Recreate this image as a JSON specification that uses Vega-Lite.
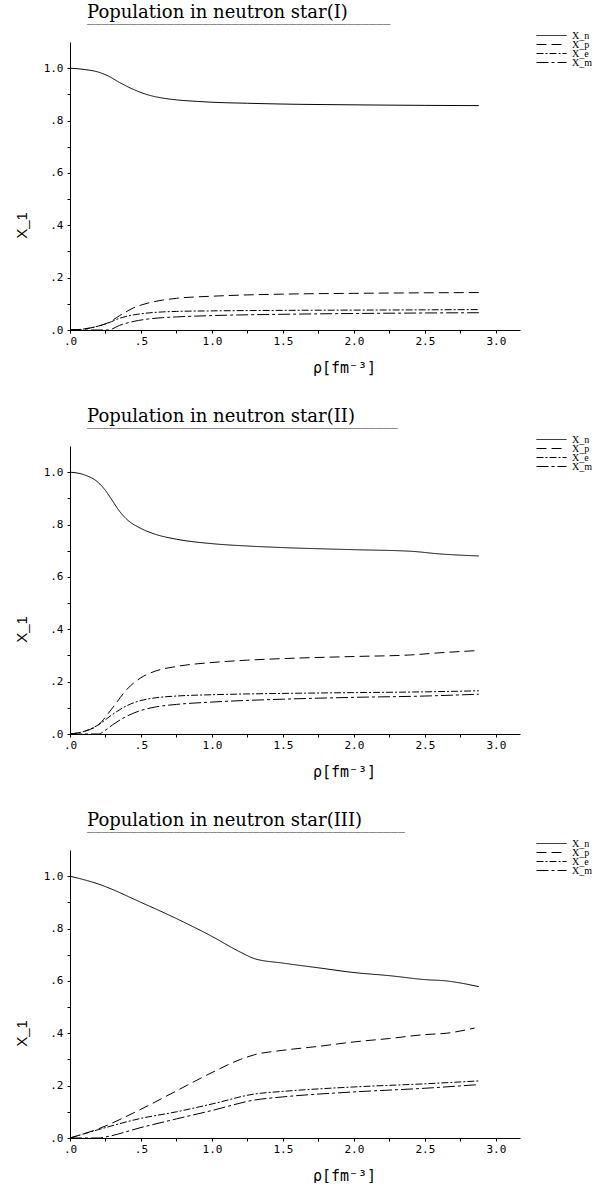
{
  "$schema": "https://vega.github.io/schema/vega-lite/v6.json",
  "padding": {"left": 14, "top": 4, "right": 0, "bottom": 0},
  "background": "white",
  "bounds": "flush",
  "spacing": 116,
  "config": {
    "view": {"stroke": null},
    "line": {"color": "black", "strokeWidth": 1, "interpolate": "monotone"},
    "axis": {
      "grid": false, "domainColor": "black", "tickColor": "black", "labelColor": "black", "titleColor": "black",
      "domainWidth": 1, "tickWidth": 1, "tickSize": 3,
      "labelFont": "DejaVu Sans Mono", "labelFontSize": 11, "labelOverlap": false, "labelFlush": false,
      "titleFontWeight": "normal"
    },
    "axisX": {"labelPadding": 2},
    "axisY": {"labelPadding": 4},
    "title": {"font": "DejaVu Serif", "fontSize": 18, "fontWeight": "normal", "color": "black",
      "subtitleFont": "DejaVu Sans Mono", "subtitleFontSize": 12, "subtitleColor": "#222", "subtitlePadding": 0,
      "anchor": "start", "frame": "group", "dx": 17},
    "legend": {"orient": "none", "legendX": 466, "legendY": -10, "title": null, "symbolType": "stroke",
      "symbolStrokeColor": "black", "symbolStrokeWidth": 1, "symbolSize": 900, "clipHeight": 7,
      "labelFont": "Liberation Serif", "labelFontSize": 10, "labelColor": "black", "labelOffset": 5, "rowPadding": -5}
  },
  "datasets": {
    "p1": [
      {"rho": 0, "x": 1.0, "s": "X_n"}, {"rho": 0.1, "x": 0.995, "s": "X_n"}, {"rho": 0.2, "x": 0.985, "s": "X_n"}, {"rho": 0.27, "x": 0.97, "s": "X_n"}, {"rho": 0.35, "x": 0.945, "s": "X_n"}, {"rho": 0.45, "x": 0.918, "s": "X_n"}, {"rho": 0.55, "x": 0.898, "s": "X_n"}, {"rho": 0.65, "x": 0.886, "s": "X_n"}, {"rho": 0.75, "x": 0.879, "s": "X_n"}, {"rho": 0.9, "x": 0.873, "s": "X_n"}, {"rho": 1.0, "x": 0.87, "s": "X_n"}, {"rho": 1.25, "x": 0.866, "s": "X_n"}, {"rho": 1.5, "x": 0.863, "s": "X_n"}, {"rho": 2.0, "x": 0.86, "s": "X_n"}, {"rho": 2.5, "x": 0.858, "s": "X_n"}, {"rho": 2.88, "x": 0.857, "s": "X_n"},
      {"rho": 0, "x": 0, "s": "X_p"}, {"rho": 0.1, "x": 0.004, "s": "X_p"}, {"rho": 0.2, "x": 0.015, "s": "X_p"}, {"rho": 0.27, "x": 0.028, "s": "X_p"}, {"rho": 0.35, "x": 0.055, "s": "X_p"}, {"rho": 0.45, "x": 0.085, "s": "X_p"}, {"rho": 0.55, "x": 0.103, "s": "X_p"}, {"rho": 0.65, "x": 0.114, "s": "X_p"}, {"rho": 0.75, "x": 0.121, "s": "X_p"}, {"rho": 1.0, "x": 0.129, "s": "X_p"}, {"rho": 1.25, "x": 0.134, "s": "X_p"}, {"rho": 1.5, "x": 0.137, "s": "X_p"}, {"rho": 2.0, "x": 0.14, "s": "X_p"}, {"rho": 2.5, "x": 0.142, "s": "X_p"}, {"rho": 2.88, "x": 0.143, "s": "X_p"},
      {"rho": 0, "x": 0, "s": "X_e"}, {"rho": 0.1, "x": 0.004, "s": "X_e"}, {"rho": 0.2, "x": 0.015, "s": "X_e"}, {"rho": 0.27, "x": 0.027, "s": "X_e"}, {"rho": 0.35, "x": 0.045, "s": "X_e"}, {"rho": 0.45, "x": 0.058, "s": "X_e"}, {"rho": 0.55, "x": 0.065, "s": "X_e"}, {"rho": 0.65, "x": 0.069, "s": "X_e"}, {"rho": 0.75, "x": 0.071, "s": "X_e"}, {"rho": 1.0, "x": 0.073, "s": "X_e"}, {"rho": 1.5, "x": 0.075, "s": "X_e"}, {"rho": 2.0, "x": 0.076, "s": "X_e"}, {"rho": 2.5, "x": 0.077, "s": "X_e"}, {"rho": 2.88, "x": 0.078, "s": "X_e"},
      {"rho": 0, "x": 0, "s": "X_m"}, {"rho": 0.27, "x": 0, "s": "X_m"}, {"rho": 0.35, "x": 0.018, "s": "X_m"}, {"rho": 0.45, "x": 0.033, "s": "X_m"}, {"rho": 0.55, "x": 0.042, "s": "X_m"}, {"rho": 0.65, "x": 0.047, "s": "X_m"}, {"rho": 0.75, "x": 0.05, "s": "X_m"}, {"rho": 1.0, "x": 0.055, "s": "X_m"}, {"rho": 1.5, "x": 0.06, "s": "X_m"}, {"rho": 2.0, "x": 0.063, "s": "X_m"}, {"rho": 2.5, "x": 0.065, "s": "X_m"}, {"rho": 2.88, "x": 0.066, "s": "X_m"}
    ],
    "p2": [
      {"rho": 0, "x": 1.0, "s": "X_n"}, {"rho": 0.1, "x": 0.99, "s": "X_n"}, {"rho": 0.2, "x": 0.96, "s": "X_n"}, {"rho": 0.25, "x": 0.93, "s": "X_n"}, {"rho": 0.3, "x": 0.89, "s": "X_n"}, {"rho": 0.35, "x": 0.85, "s": "X_n"}, {"rho": 0.4, "x": 0.82, "s": "X_n"}, {"rho": 0.5, "x": 0.785, "s": "X_n"}, {"rho": 0.6, "x": 0.763, "s": "X_n"}, {"rho": 0.75, "x": 0.744, "s": "X_n"}, {"rho": 1.0, "x": 0.727, "s": "X_n"}, {"rho": 1.25, "x": 0.718, "s": "X_n"}, {"rho": 1.5, "x": 0.712, "s": "X_n"}, {"rho": 2.0, "x": 0.704, "s": "X_n"}, {"rho": 2.4, "x": 0.698, "s": "X_n"}, {"rho": 2.6, "x": 0.688, "s": "X_n"}, {"rho": 2.88, "x": 0.68, "s": "X_n"},
      {"rho": 0, "x": 0, "s": "X_p"}, {"rho": 0.1, "x": 0.01, "s": "X_p"}, {"rho": 0.2, "x": 0.035, "s": "X_p"}, {"rho": 0.3, "x": 0.1, "s": "X_p"}, {"rho": 0.4, "x": 0.17, "s": "X_p"}, {"rho": 0.5, "x": 0.215, "s": "X_p"}, {"rho": 0.6, "x": 0.24, "s": "X_p"}, {"rho": 0.75, "x": 0.258, "s": "X_p"}, {"rho": 1.0, "x": 0.273, "s": "X_p"}, {"rho": 1.25, "x": 0.282, "s": "X_p"}, {"rho": 1.5, "x": 0.288, "s": "X_p"}, {"rho": 2.0, "x": 0.296, "s": "X_p"}, {"rho": 2.4, "x": 0.302, "s": "X_p"}, {"rho": 2.6, "x": 0.31, "s": "X_p"}, {"rho": 2.85, "x": 0.318, "s": "X_p"},
      {"rho": 0, "x": 0, "s": "X_e"}, {"rho": 0.1, "x": 0.01, "s": "X_e"}, {"rho": 0.2, "x": 0.035, "s": "X_e"}, {"rho": 0.3, "x": 0.075, "s": "X_e"}, {"rho": 0.4, "x": 0.108, "s": "X_e"}, {"rho": 0.5, "x": 0.128, "s": "X_e"}, {"rho": 0.6, "x": 0.138, "s": "X_e"}, {"rho": 0.75, "x": 0.145, "s": "X_e"}, {"rho": 1.0, "x": 0.15, "s": "X_e"}, {"rho": 1.5, "x": 0.155, "s": "X_e"}, {"rho": 2.0, "x": 0.158, "s": "X_e"}, {"rho": 2.5, "x": 0.161, "s": "X_e"}, {"rho": 2.88, "x": 0.165, "s": "X_e"},
      {"rho": 0, "x": 0, "s": "X_m"}, {"rho": 0.2, "x": 0, "s": "X_m"}, {"rho": 0.25, "x": 0.015, "s": "X_m"}, {"rho": 0.3, "x": 0.035, "s": "X_m"}, {"rho": 0.4, "x": 0.068, "s": "X_m"}, {"rho": 0.5, "x": 0.09, "s": "X_m"}, {"rho": 0.6, "x": 0.103, "s": "X_m"}, {"rho": 0.75, "x": 0.113, "s": "X_m"}, {"rho": 1.0, "x": 0.122, "s": "X_m"}, {"rho": 1.5, "x": 0.133, "s": "X_m"}, {"rho": 2.0, "x": 0.14, "s": "X_m"}, {"rho": 2.5, "x": 0.145, "s": "X_m"}, {"rho": 2.88, "x": 0.152, "s": "X_m"}
    ],
    "p3": [
      {"rho": 0, "x": 1.0, "s": "X_n"}, {"rho": 0.2, "x": 0.97, "s": "X_n"}, {"rho": 0.5, "x": 0.9, "s": "X_n"}, {"rho": 0.75, "x": 0.838, "s": "X_n"}, {"rho": 1.0, "x": 0.77, "s": "X_n"}, {"rho": 1.2, "x": 0.71, "s": "X_n"}, {"rho": 1.3, "x": 0.685, "s": "X_n"}, {"rho": 1.5, "x": 0.668, "s": "X_n"}, {"rho": 1.75, "x": 0.65, "s": "X_n"}, {"rho": 2.0, "x": 0.632, "s": "X_n"}, {"rho": 2.25, "x": 0.62, "s": "X_n"}, {"rho": 2.5, "x": 0.605, "s": "X_n"}, {"rho": 2.65, "x": 0.6, "s": "X_n"}, {"rho": 2.88, "x": 0.578, "s": "X_n"},
      {"rho": 0, "x": 0, "s": "X_p"}, {"rho": 0.2, "x": 0.035, "s": "X_p"}, {"rho": 0.5, "x": 0.11, "s": "X_p"}, {"rho": 0.75, "x": 0.18, "s": "X_p"}, {"rho": 1.0, "x": 0.25, "s": "X_p"}, {"rho": 1.2, "x": 0.3, "s": "X_p"}, {"rho": 1.3, "x": 0.318, "s": "X_p"}, {"rho": 1.5, "x": 0.335, "s": "X_p"}, {"rho": 1.75, "x": 0.35, "s": "X_p"}, {"rho": 2.0, "x": 0.367, "s": "X_p"}, {"rho": 2.25, "x": 0.38, "s": "X_p"}, {"rho": 2.5, "x": 0.395, "s": "X_p"}, {"rho": 2.65, "x": 0.4, "s": "X_p"}, {"rho": 2.85, "x": 0.42, "s": "X_p"},
      {"rho": 0, "x": 0, "s": "X_e"}, {"rho": 0.2, "x": 0.032, "s": "X_e"}, {"rho": 0.5, "x": 0.075, "s": "X_e"}, {"rho": 0.75, "x": 0.1, "s": "X_e"}, {"rho": 1.0, "x": 0.13, "s": "X_e"}, {"rho": 1.3, "x": 0.168, "s": "X_e"}, {"rho": 1.5, "x": 0.178, "s": "X_e"}, {"rho": 2.0, "x": 0.195, "s": "X_e"}, {"rho": 2.5, "x": 0.207, "s": "X_e"}, {"rho": 2.88, "x": 0.218, "s": "X_e"},
      {"rho": 0, "x": 0, "s": "X_m"}, {"rho": 0.2, "x": 0, "s": "X_m"}, {"rho": 0.25, "x": 0.004, "s": "X_m"}, {"rho": 0.5, "x": 0.04, "s": "X_m"}, {"rho": 0.75, "x": 0.073, "s": "X_m"}, {"rho": 1.0, "x": 0.105, "s": "X_m"}, {"rho": 1.3, "x": 0.145, "s": "X_m"}, {"rho": 1.5, "x": 0.157, "s": "X_m"}, {"rho": 2.0, "x": 0.176, "s": "X_m"}, {"rho": 2.5, "x": 0.19, "s": "X_m"}, {"rho": 2.88, "x": 0.204, "s": "X_m"}
    ]
  },
  "resolve": {"legend": {"strokeDash": "independent"}},
  "vconcat": [
    {
      "width": 450, "height": 288,
      "title": {"text": "Population in neutron star(I)", "subtitle": "‾‾‾‾‾‾‾‾‾‾‾‾‾‾‾‾‾‾‾‾‾‾‾‾‾‾‾‾‾‾‾‾‾‾‾‾‾‾‾‾‾‾", "offset": -4},
      "data": {"name": "p1"},
      "mark": {"type": "line"},
      "encoding": {
        "x": {"field": "rho", "type": "quantitative", "scale": {"domain": [0, 3.17], "nice": false, "zero": false},
          "axis": {"values": [0, 0.25, 0.5, 0.75, 1, 1.25, 1.5, 1.75, 2, 2.25, 2.5, 2.75, 3], "labelExpr": "datum.value % 0.5 == 0 ? replace(format(datum.value, '.1f'), '0.', '.') : ''",
            "title": "ρ[fm⁻³]", "titleFont": "DejaVu Sans Mono", "titleFontSize": 15, "titleX": 274, "titleY": 42, "titleBaseline": "alphabetic", "titleAlign": "center"}},
        "y": {"field": "x", "type": "quantitative", "scale": {"domain": [0, 1.1], "nice": false},
          "axis": {"values": [0, 0.1, 0.2, 0.3, 0.4, 0.5, 0.6, 0.7, 0.8, 0.9, 1.0], "labelExpr": "round(datum.value * 10) % 2 == 0 ? replace(format(datum.value, '.1f'), '0.', '.') : ''",
            "title": "X_1", "titleFont": "Liberation Sans", "titleFontSize": 15, "titleX": -49, "titleY": 183, "titleBaseline": "middle", "titleAlign": "center", "titleAngle": -90}},
        "strokeDash": {"field": "s", "type": "nominal", "scale": {"domain": ["X_n", "X_p", "X_e", "X_m"], "range": [[1, 0], [10, 5], [7, 2, 2, 2], [12, 3, 3, 3]]}}
      }
    },
    {
      "width": 450, "height": 288,
      "title": {"text": "Population in neutron star(II)", "subtitle": "‾‾‾‾‾‾‾‾‾‾‾‾‾‾‾‾‾‾‾‾‾‾‾‾‾‾‾‾‾‾‾‾‾‾‾‾‾‾‾‾‾‾‾", "offset": -4},
      "data": {"name": "p2"},
      "mark": {"type": "line"},
      "encoding": {
        "x": {"field": "rho", "type": "quantitative", "scale": {"domain": [0, 3.17], "nice": false, "zero": false},
          "axis": {"values": [0, 0.25, 0.5, 0.75, 1, 1.25, 1.5, 1.75, 2, 2.25, 2.5, 2.75, 3], "labelExpr": "datum.value % 0.5 == 0 ? replace(format(datum.value, '.1f'), '0.', '.') : ''",
            "title": "ρ[fm⁻³]", "titleFont": "DejaVu Sans Mono", "titleFontSize": 15, "titleX": 274, "titleY": 42, "titleBaseline": "alphabetic", "titleAlign": "center"}},
        "y": {"field": "x", "type": "quantitative", "scale": {"domain": [0, 1.1], "nice": false},
          "axis": {"values": [0, 0.1, 0.2, 0.3, 0.4, 0.5, 0.6, 0.7, 0.8, 0.9, 1.0], "labelExpr": "round(datum.value * 10) % 2 == 0 ? replace(format(datum.value, '.1f'), '0.', '.') : ''",
            "title": "X_1", "titleFont": "Liberation Sans", "titleFontSize": 15, "titleX": -49, "titleY": 183, "titleBaseline": "middle", "titleAlign": "center", "titleAngle": -90}},
        "strokeDash": {"field": "s", "type": "nominal", "scale": {"domain": ["X_n", "X_p", "X_e", "X_m"], "range": [[1, 0], [10, 5], [7, 2, 2, 2], [12, 3, 3, 3]]}}
      }
    },
    {
      "width": 450, "height": 288,
      "title": {"text": "Population in neutron star(III)", "subtitle": "‾‾‾‾‾‾‾‾‾‾‾‾‾‾‾‾‾‾‾‾‾‾‾‾‾‾‾‾‾‾‾‾‾‾‾‾‾‾‾‾‾‾‾‾", "offset": -4},
      "data": {"name": "p3"},
      "mark": {"type": "line"},
      "encoding": {
        "x": {"field": "rho", "type": "quantitative", "scale": {"domain": [0, 3.17], "nice": false, "zero": false},
          "axis": {"values": [0, 0.25, 0.5, 0.75, 1, 1.25, 1.5, 1.75, 2, 2.25, 2.5, 2.75, 3], "labelExpr": "datum.value % 0.5 == 0 ? replace(format(datum.value, '.1f'), '0.', '.') : ''",
            "title": "ρ[fm⁻³]", "titleFont": "DejaVu Sans Mono", "titleFontSize": 15, "titleX": 274, "titleY": 42, "titleBaseline": "alphabetic", "titleAlign": "center"}},
        "y": {"field": "x", "type": "quantitative", "scale": {"domain": [0, 1.1], "nice": false},
          "axis": {"values": [0, 0.1, 0.2, 0.3, 0.4, 0.5, 0.6, 0.7, 0.8, 0.9, 1.0], "labelExpr": "round(datum.value * 10) % 2 == 0 ? replace(format(datum.value, '.1f'), '0.', '.') : ''",
            "title": "X_1", "titleFont": "Liberation Sans", "titleFontSize": 15, "titleX": -49, "titleY": 183, "titleBaseline": "middle", "titleAlign": "center", "titleAngle": -90}},
        "strokeDash": {"field": "s", "type": "nominal", "scale": {"domain": ["X_n", "X_p", "X_e", "X_m"], "range": [[1, 0], [10, 5], [7, 2, 2, 2], [12, 3, 3, 3]]}}
      }
    }
  ]
}
